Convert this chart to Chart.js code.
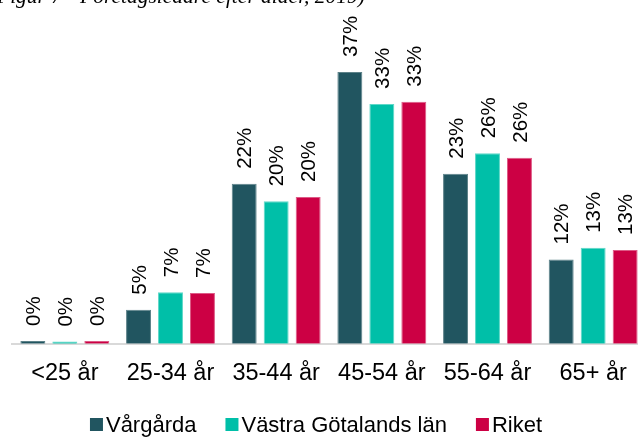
<!DOCTYPE html>
<html>
<head>
<meta charset="utf-8">
<script src="https://cdn.jsdelivr.net/npm/chart.js@4.4.1/dist/chart.umd.min.js"></script>
<style>
  html, body { margin: 0; padding: 0; background: #fff; overflow: hidden; width: 638px; height: 437px; }
  #wrap { position: absolute; left: 0; top: 0; width: 652px; height: 437px; }
  #title { position: absolute; left: -3px; top: -14px; font: italic 21.5px "Liberation Serif", serif; line-height: 1; color: #000; white-space: nowrap; z-index: 2; }
</style>
</head>
<body>
<div id="title">Figur 7 - Företagsledare efter ålder, 2019)</div>
<div id="wrap"><canvas id="c"></canvas></div>
<script>
const categories = ['<25 år', '25-34 år', '35-44 år', '45-54 år', '55-64 år', '65+ år'];
const seriesNames = ['Vårgårda', 'Västra Götalands län', 'Riket'];
const vargarda = [0.4, 4.7, 22.0, 37.4, 23.4, 11.6];
const vastraGotaland = [0.3, 7.1, 19.6, 33.0, 26.2, 13.2];
const riket = [0.4, 7.0, 20.2, 33.3, 25.6, 12.9];
const colors = ['#215560', '#00BFA8', '#CC0044'];
const borderColors = ['#5d8289', '#5fd8c8', '#dd5a86'];

const FONT = '"Liberation Sans", Arial, sans-serif';

const labelPlugin = {
  id: 'barLabels',
  afterDatasetsDraw(chart) {
    const ctx = chart.ctx;
    ctx.save();
    ctx.font = '20.5px ' + FONT;
    ctx.fillStyle = '#000';
    ctx.textAlign = 'left';
    ctx.textBaseline = 'middle';
    chart.data.datasets.forEach((ds, di) => {
      const meta = chart.getDatasetMeta(di);
      meta.data.forEach((bar, i) => {
        const txt = Math.round(ds.data[i]) + '%';
        ctx.save();
        ctx.translate(bar.x + 1.5, bar.y - 15);
        ctx.rotate(-Math.PI / 2);
        ctx.fillText(txt, 0, 0);
        ctx.restore();
      });
    });
    ctx.restore();
  }
};

const legendPlugin = {
  id: 'customLegend',
  afterDraw(chart) {
    const ctx = chart.ctx;
    ctx.save();
    ctx.font = '22px ' + FONT;
    ctx.textBaseline = 'middle';
    ctx.textAlign = 'left';
    const box = 13, gap = 3, spacing = 29;
    const items = chart.data.datasets.map(ds => ({ text: ds.label, color: ds.backgroundColor, w: ctx.measureText(ds.label).width }));
    const total = items.reduce((s, it) => s + box + gap + it.w, 0) + spacing * (items.length - 1);
    let x = 316 - total / 2;
    const yc = 424.5;
    items.forEach(it => {
      ctx.fillStyle = it.color;
      ctx.fillRect(x, yc - box / 2, box, box);
      ctx.fillStyle = '#000';
      ctx.fillText(it.text, x + box + gap, yc + 1);
      x += box + gap + it.w + spacing;
    });
    ctx.restore();
  }
};

const seriesData = [vargarda, vastraGotaland, riket];

new Chart(document.getElementById('c'), {
  type: 'bar',
  data: {
    labels: categories,
    datasets: seriesNames.map((name, i) => ({
      label: name,
      data: seriesData[i],
      backgroundColor: colors[i],
      borderColor: borderColors[i],
      borderWidth: 1,
      categoryPercentage: 0.908,
      barPercentage: 0.78
    }))
  },
  options: {
    responsive: true,
    maintainAspectRatio: false,
    animation: false,
    layout: { padding: { left: 12, right: 6, top: 53, bottom: 34.6 } },
    plugins: { legend: { display: false }, tooltip: { enabled: false }, title: { display: false } },
    scales: {
      x: {
        z: 1,
        grid: { display: false, drawTicks: false },
        border: { display: true, color: '#d9d9d9', width: 2 },
        ticks: { color: '#000', font: { family: FONT, size: 23.5 }, padding: 15.2, maxRotation: 0, autoSkip: false }
      },
      y: {
        display: false,
        min: 0,
        max: 40
      }
    }
  },
  plugins: [labelPlugin, legendPlugin]
});
</script>
</body>
</html>
